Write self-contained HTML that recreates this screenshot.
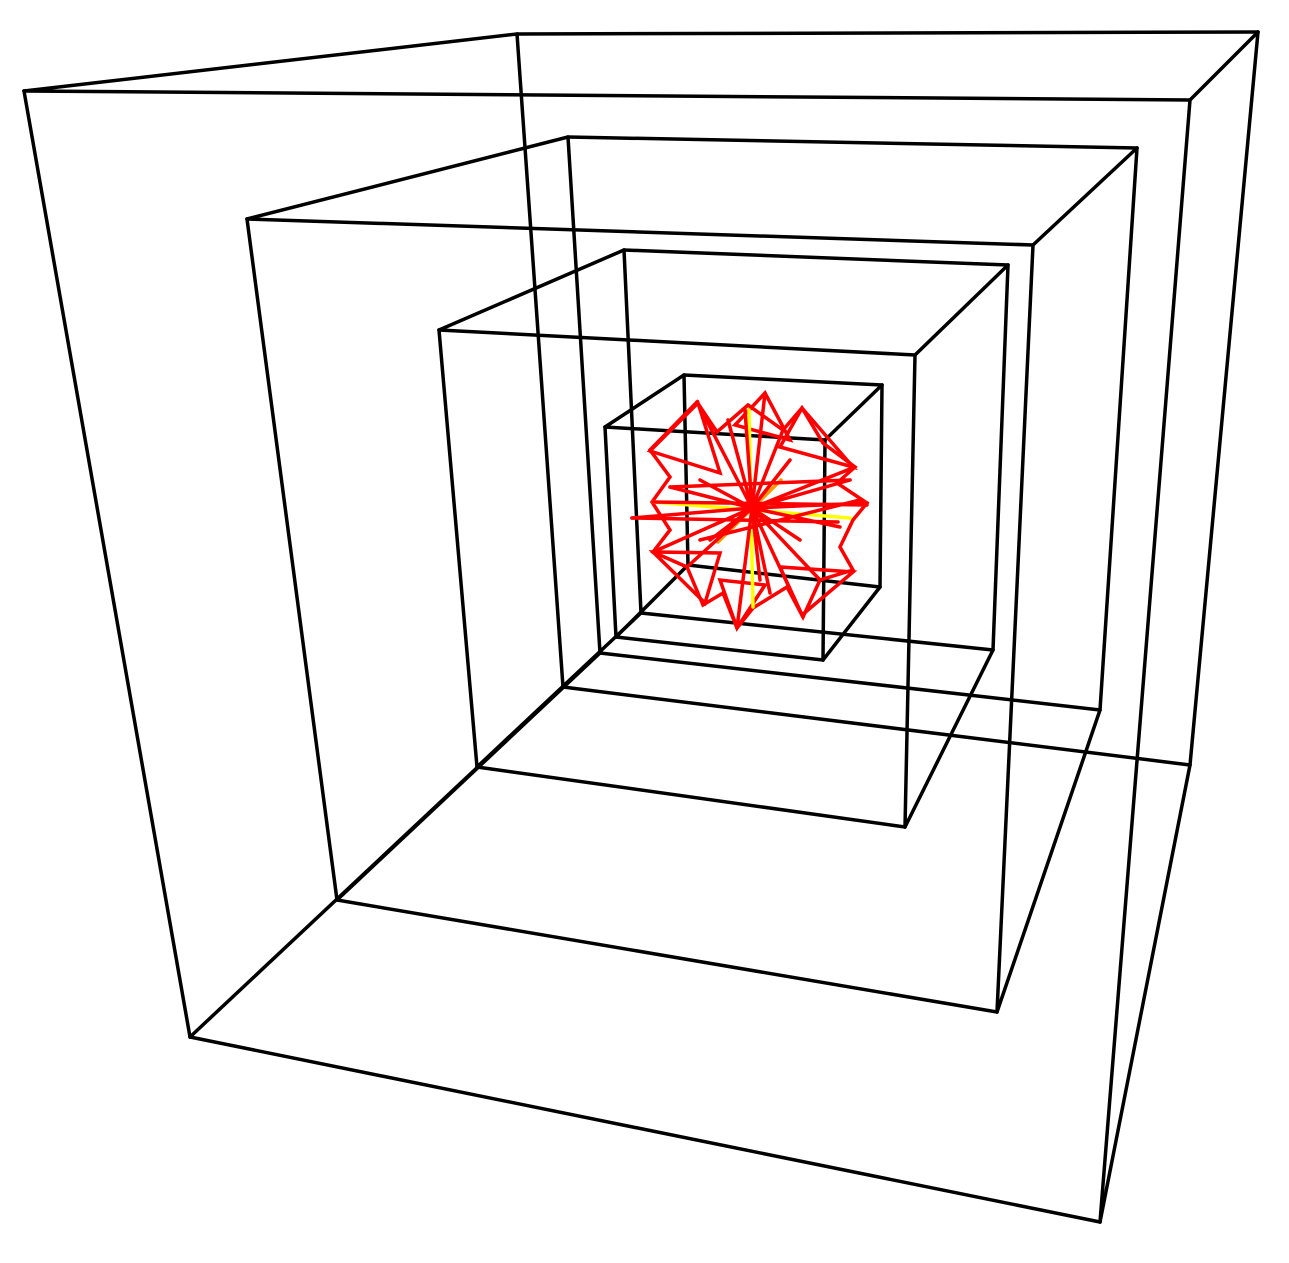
<!DOCTYPE html>
<html><head><meta charset="utf-8"><style>html,body{margin:0;padding:0;background:#fff;}svg{display:block;}</style></head>
<body>
<svg id="chart" width="1289" height="1263" viewBox="0 0 1289 1263" xmlns="http://www.w3.org/2000/svg">
<rect width="1289" height="1263" fill="#fff"/>
<g id="cubes"></g>
<g id="star"></g>
</svg>
<script>
// Cube projected vertices: top A,B,C,D then bottom E,F,G,H
const cube1 = [[24,91],[517,34],[1258,32],[1190,100],[190,1037],[563,687],[1190,765],[1100,1222]];
const cube2 = [[247,219],[568,137],[1137,148],[1033,245],[337,900],[600,653],[1100,710],[997,1012]];
const cube3 = [[439,330],[624,250],[1008,265],[915,355],[477,767],[641,613],[993,650],[905,827]];
const cube4 = [[605,427],[684,375],[882,385],[825,440],[616,637],[688,565],[880,587],[823,660]];
const cubeEdges = [[0,1],[1,2],[2,3],[3,0],[4,5],[5,6],[6,7],[7,4],[0,4],[1,5],[2,6],[3,7]];
const starRing = [[650,450],[697,402],[717,432],[748,405],[783,430],[802,408],[823,443],[855,467],[837,483],[867,503],[853,520],[840,547],[853,570],[820,580],[803,617],[787,587],[753,608],[737,628],[723,593],[703,605],[687,567],[653,552],[670,530],[652,502],[670,477]];
const starTriangles = [
  [[698,403],[650,451],[720,473]],
  [[802,408],[780,447],[853,467]],
  [[653,552],[705,603],[720,553]],
  [[802,615],[853,572],[780,567]],
  [[765,393],[735,425],[790,440]],
  [[737,628],[720,580],[765,585]]
];
const starCenter = [752,508];
const starSpokes = [[765,393],[728,420],[632,518],[867,503],[737,628],[770,593],[840,527],[670,487],[850,480],[700,480],[790,460],[710,540],[800,540],[760,580],[745,410],[697,402],[820,580],[687,567],[803,617],[855,467],[653,552],[783,430]];
const starChords = [[[653,502],[867,505]],[[632,518],[838,522]],[[670,487],[850,480]],[[700,540],[860,500]]];
const yellowAxes = [[[749,410],[753,607]],[[653,502],[850,518]]];
const orangeAxes = [[[718,542],[781,480]]];

const NS = 'http://www.w3.org/2000/svg';
const gC = document.getElementById('cubes');
[cube1,cube2,cube3,cube4].forEach((cube,ci)=>{
  cubeEdges.forEach(([a,b],ei)=>{
    const l = document.createElementNS(NS,'line');
    l.setAttribute('x1',cube[a][0]);l.setAttribute('y1',cube[a][1]);
    l.setAttribute('x2',cube[b][0]);l.setAttribute('y2',cube[b][1]);
    l.setAttribute('stroke','#000');l.setAttribute('stroke-width','3.5');l.setAttribute('stroke-linecap','round');
    
    
    gC.appendChild(l);
  });
});
const gS = document.getElementById('star');
function seg(p,q,color,w){
  const l = document.createElementNS(NS,'line');
  l.setAttribute('x1',p[0]);l.setAttribute('y1',p[1]);l.setAttribute('x2',q[0]);l.setAttribute('y2',q[1]);
  l.setAttribute('stroke',color);l.setAttribute('stroke-width',w);l.setAttribute('stroke-linecap','round');
  
  
  gS.appendChild(l);
}
function poly(pts){
  const p = document.createElementNS(NS,'polygon');
  p.setAttribute('points', pts.map(q=>q.join(',')).join(' '));
  p.setAttribute('fill','none');p.setAttribute('stroke','#f00');p.setAttribute('stroke-width','3.5');
  
  
  gS.appendChild(p);
}
poly(starRing);
starTriangles.forEach(t=>poly(t));
yellowAxes.forEach(([p,q])=>seg(p,q,'#ff0',3.5));
orangeAxes.forEach(([p,q])=>seg(p,q,'#f90',3.5));
starSpokes.forEach(p=>seg(starCenter,p,'#f00',3.5));
starChords.forEach(([p,q])=>seg(p,q,'#f00',3.5));
</script>
</body></html>
